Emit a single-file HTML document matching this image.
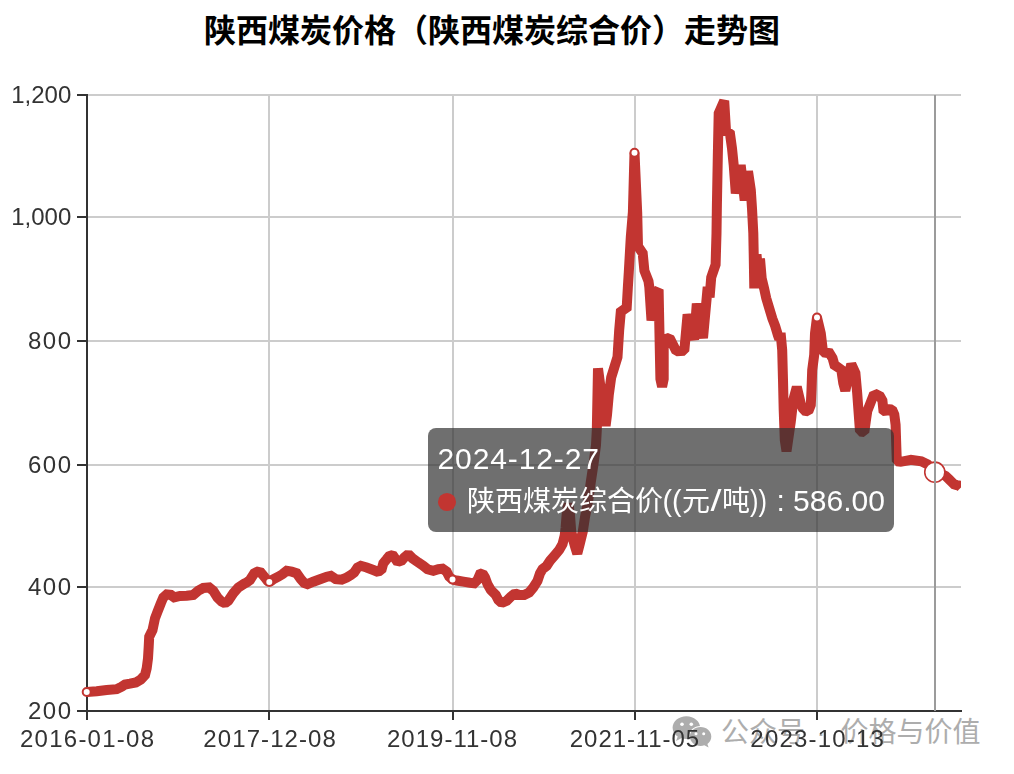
<!DOCTYPE html>
<html lang="zh"><head><meta charset="utf-8"><title>陕西煤炭价格（陕西煤炭综合价）走势图</title>
<style>html,body{margin:0;padding:0;background:#fff}body{width:1014px;height:774px;overflow:hidden}svg{display:block}text{font-family:"Liberation Sans","Noto Sans CJK SC",sans-serif}.ax{font-size:24px;fill:#333}.tt{font-size:30px;fill:#fff}</style></head><body>
<svg width="1014" height="774" viewBox="0 0 1014 774">
<rect width="1014" height="774" fill="#fff"/>
<g id="title"><text x="204" y="42" font-size="32" font-weight="bold" fill="#000" textLength="576" lengthAdjust="spacing">陕西煤炭价格（陕西煤炭综合价）走势图</text></g>
<g id="grid" fill="#ccc">
<rect x="88" y="94" width="873" height="2"/>
<rect x="88" y="216" width="873" height="2"/>
<rect x="88" y="340" width="873" height="2"/>
<rect x="88" y="464" width="873" height="2"/>
<rect x="88" y="586" width="873" height="2"/>
<rect x="268" y="95" width="2" height="616"/>
<rect x="452" y="95" width="2" height="616"/>
<rect x="634" y="95" width="2" height="616"/>
<rect x="816" y="95" width="2" height="616"/>
</g>
<g id="axes" fill="#333">
<rect x="86" y="94" width="2" height="618"/>
<rect x="86" y="710" width="876" height="2"/>
<rect x="77" y="94" width="10" height="2"/>
<rect x="77" y="216" width="10" height="2"/>
<rect x="77" y="340" width="10" height="2"/>
<rect x="77" y="464" width="10" height="2"/>
<rect x="77" y="586" width="10" height="2"/>
<rect x="77" y="710" width="10" height="2"/>
<rect x="86" y="711" width="2" height="9"/>
<rect x="268" y="711" width="2" height="9"/>
<rect x="452" y="711" width="2" height="9"/>
<rect x="634" y="711" width="2" height="9"/>
<rect x="816" y="711" width="2" height="9"/>
</g>
<g id="ylabels" class="ax" text-anchor="end" style="filter:grayscale(1)">
<text x="71.3" y="103.3">1,200</text>
<text x="71.3" y="225.3">1,000</text>
<text x="71" y="349.3" textLength="43" lengthAdjust="spacing">800</text>
<text x="71" y="473.3" textLength="43" lengthAdjust="spacing">600</text>
<text x="71" y="595.3" textLength="43" lengthAdjust="spacing">400</text>
<text x="71" y="719.3" textLength="43" lengthAdjust="spacing">200</text>
</g>
<g id="watermark" fill="#adadad">
<path d="M686.4 716.2c-7.6 0-13.8 5.1-13.8 11.5 0 3.6 2 6.8 5.1 8.9l-1.6 4.3 5.2-2.6c1.6.5 3.3.8 5.1.8 7.6 0 13.8-5.1 13.8-11.4s-6.200-11.500-13.800-11.500z"/>
<ellipse cx="700.6" cy="736.6" rx="11.8" ry="10.6" fill="#fff"/>
<path d="M700.6 726.9c-5.900 0-10.700 4.200-10.700 9.500s4.800 9.500 10.700 9.500c1.300 0 2.600-.2 3.700-.6l4.300 2.300-1.200-3.700c2.400-1.700 3.900-4.400 3.900-7.500 0-5.300-4.800-9.500-10.700-9.500z"/>
<g fill="#fff"><circle cx="682" cy="724.3" r="1.800"/><circle cx="691.3" cy="724.3" r="1.800"/><circle cx="696" cy="733.7" r="1.500"/><circle cx="703.7" cy="733.7" r="1.500"/></g>
<text x="721" y="742" font-size="28">公众号</text>
<text x="820.8" y="742" font-size="28" text-anchor="middle">·</text>
<text x="840.5" y="742" font-size="28">价格与价值</text>
</g>
<g id="xlabels" class="ax" text-anchor="middle" style="filter:grayscale(1)">
<text x="87" y="746.8" textLength="134" lengthAdjust="spacing">2016-01-08</text>
<text x="269.6" y="746.8" textLength="132.5" lengthAdjust="spacing">2017-12-08</text>
<text x="452" y="746.8" textLength="130" lengthAdjust="spacing">2019-11-08</text>
<text x="634.5" y="746.8" textLength="129.3" lengthAdjust="spacing">2021-11-05</text>
<text x="817.1" y="746.8" textLength="133.5" lengthAdjust="spacing">2023-10-13</text>
</g>
<clipPath id="gc"><rect x="80" y="80" width="881.1" height="640"/></clipPath>
<polyline id="series" clip-path="url(#gc)" points="86.7,692 96.7,691.3 106.7,690 116.7,689.2 121.7,686.7 125,684.5 130,683.7 135.8,682.5 140.8,679.5 145,675 146.7,668.3 148,658.3 148.7,646.7 149.2,636.7 152.5,630 155,618.3 157.5,611.7 160.8,603.3 163.3,597.4 166.7,594.4 170.8,594.9 174.2,597.4 180,596 186.7,595.7 193.3,594.9 198.3,590.7 203.3,588 209.2,587.5 213.3,590.8 217.5,597.5 221.7,601.7 225,603.3 228.3,600.8 233.3,593.3 238.3,587.5 244.2,583.7 246.7,582.5 250,580 254.2,573.3 257.5,571.7 260.8,572.5 265,577.5 267.5,580.8 269.3,582 271.2,580.8 273.3,579.2 278.3,576.7 282.5,574.2 286.7,570.8 291.7,571.7 296.7,573.3 300.8,579.2 304.2,583 307.5,584.2 313.3,581.7 320,579.2 326.7,576.7 330.8,575.8 335.8,579.2 341.7,579.7 346.7,577.5 350.8,575 354.2,572.5 357.5,567.5 360.8,565.8 366.7,567.5 373.3,570 378.3,572 381.7,569.2 383.3,563.3 386.7,559.2 390,555 393.3,555.8 396.7,560.8 400.8,561.7 404.2,557.5 408.3,554.2 412.5,558.3 418.3,562.5 423.3,565.8 427.5,569.2 433.3,570.8 438.3,569.2 442.5,568.7 446.7,571.7 449.2,576.7 452.5,579.5 456.7,580.5 463.3,581.7 470,582.8 474.2,583.3 477.5,580 480,574.2 482.5,573.3 485,577.5 487.5,584.2 490.8,590 495.8,595 498.3,600 501.7,603 506.7,600.8 510.8,596.7 515,593.3 519.2,595 524.2,595 529.2,592.5 533.3,587.5 537.5,580.8 540,573.3 542.5,569.2 546.7,565.8 550,560.8 555,555 559.2,550 562.5,544.2 564.6,536 565.6,528 566.6,515 568.3,503.5 570,515 571.2,531 573.5,541 575.5,548 577.3,553.6 580,543 582.8,531.5 585,517 588,502 590.8,482 593.8,462 596,445 596.8,430 598,368.4 605.6,425.8 607,415 608.8,394.9 611.2,377.4 617.5,357 619.2,330 620.8,311.7 626.7,307.5 627.8,288.3 628.8,272 630.8,237 632.9,212 634.5,152.7 637.2,212.6 638,246.3 642.7,253.3 644.4,270.7 648.5,281.2 649.3,287 651.5,320.5 655.6,292.5 658.6,289.6 659.6,340 660.4,379 662.1,386.6 663.7,379 663.7,346 665,339.3 669.5,337.8 676.3,351.3 684.3,350.8 687.6,314.5 694.1,339.7 696.8,303.6 703,338 707.7,287 709.6,297.4 711.2,277.5 715.6,264.5 716.5,233.3 716.9,205 717.8,156.7 718.7,113.3 724.2,100.8 726,130.8 730,133.7 732,148.3 733.7,165 735.8,193.3 740.7,165 744.7,200.5 748,171.3 750.8,190 752,208.3 753.3,233.3 753.7,253.3 754.3,288.3 756.5,254.5 758.2,272 760,258.6 761.7,278.4 764.2,288.8 766.2,298.1 768.3,305.1 772.3,318.5 775.2,326 778,335.5 779.3,339.2 780.6,333 782.2,350 783,380 783.7,410 784.8,440 786.5,451.3 790.8,421.7 793.3,400 796.8,387 800.8,404 802.8,408.5 805,410.8 808.3,411.3 810.8,405 811.5,390 812.2,370 814.2,355 815,333.3 817,317.5 820.8,333.3 823,352.2 829.5,353.2 832.5,358 834.5,365 838,367.3 841.3,369.8 843.3,383.3 845.3,390.7 851.3,364.2 855.4,373 857.2,393.3 860,431.5 864.3,432 866.2,418.3 867.3,411 869.5,405.5 873.3,395.8 876.5,394.5 880,396.2 882.4,400.5 883.4,410 886,412 888.5,409.2 892,409.4 894.3,414.5 895.6,425 896.3,446.7 896.8,461.3 900.7,461.8 911,459.8 921.3,461.3 927.5,464.4 934.8,472.2 940,473.4 945.5,475.9 948.9,479.1 951.5,481.7 954.1,484.3 956.7,485.1 959.2,485.6 961,487.5" fill="none" stroke="#c23531" stroke-width="10" stroke-linejoin="miter" stroke-miterlimit="1.15" stroke-linecap="butt"/>
<g id="symbols" fill="#fff" stroke="#c23531" stroke-width="2">
<circle cx="86.7" cy="692" r="4"/>
<circle cx="269.3" cy="582" r="4"/>
<circle cx="452.5" cy="579.5" r="4"/>
<circle cx="634.5" cy="152.7" r="4"/>
<circle cx="817" cy="317.5" r="4"/>
</g>
<circle cx="934.8" cy="472.2" r="10.05" fill="#fff" stroke="#c23531" stroke-width="1.6"/>
<rect id="axisPointer" x="934" y="95" width="2" height="616" fill="#9b9b9b"/>
<g id="tooltip">
<rect x="428" y="428" width="466" height="104" rx="8" ry="8" fill="rgb(50,50,50)" fill-opacity="0.7"/>
<circle cx="447" cy="502" r="9.05" fill="#c23531"/>
<g style="filter:grayscale(1)">
<text class="tt" x="437.5" y="468.9" textLength="161.5" lengthAdjust="spacing">2024-12-27</text>
<text class="tt" y="511.4"><tspan x="467" font-size="28">陕西煤炭综合价</tspan><tspan x="662.5" textLength="19" lengthAdjust="spacingAndGlyphs">((</tspan><tspan x="682" font-size="28">元</tspan><tspan x="710.5" textLength="11" lengthAdjust="spacingAndGlyphs">/</tspan><tspan x="722" font-size="28">吨</tspan><tspan x="750" textLength="17" lengthAdjust="spacingAndGlyphs">))</tspan><tspan x="768.2" xml:space="preserve"> : </tspan><tspan x="793" textLength="92" lengthAdjust="spacing">586.00</tspan></text>
</g></g>
</svg></body></html>
